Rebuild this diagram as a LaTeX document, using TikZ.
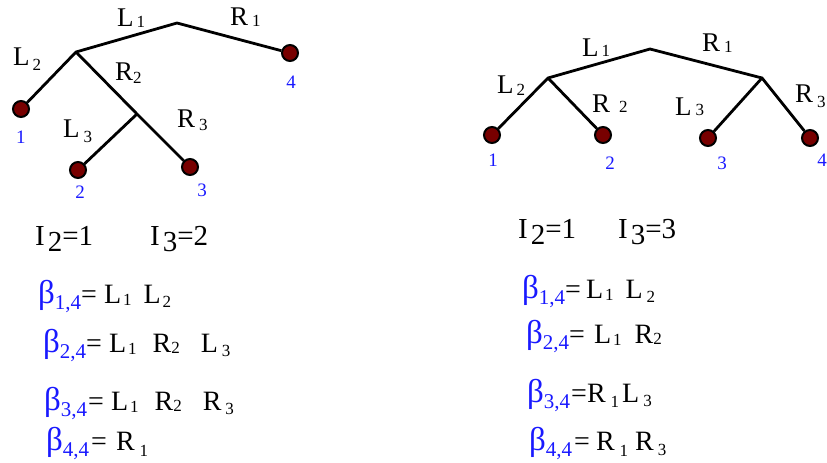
\documentclass[tikz,border=0pt]{standalone}
\usepackage{fontspec}
\setmainfont{Liberation Serif}
\usetikzlibrary{positioning}

\definecolor{idxblue}{RGB}{25,25,255}
\definecolor{leafred}{RGB}{120,0,0}

% lowered small index, and blue beta coefficient
\newcommand{\idx}[2][2pt]{\raisebox{-#1}{\fontsize{17}{17}\selectfont #2}}
\newcommand{\coef}[2][6pt]{{\color{idxblue}\fontsize{33}{33}\selectfont β\raisebox{-#1}{\fontsize{21}{21}\selectfont #2}}}

\begin{document}
\begin{tikzpicture}[
    x=1pt, y=-1pt,
    branch/.style={line width=2.8pt},
    leaf/.style={circle, draw=black, line width=2pt, fill=leafred, minimum size=16pt, inner sep=0pt},
    lbl/.style={anchor=base west, inner sep=0pt, font=\fontsize{27}{32}\selectfont},
    num/.style={inner sep=0pt, text=idxblue, font=\fontsize{19}{20}\selectfont},
    eqn/.style={anchor=base west, inner sep=0pt, font=\fontsize{28}{32}\selectfont},
    ieqn/.style={anchor=base west, inner sep=0pt, font=\fontsize{29}{32}\selectfont},
]
\useasboundingbox (0,0) rectangle (827,463);

% --- Left tree ---
\coordinate (a0) at (177,23);
\coordinate (a1) at (76,52);
\coordinate (a2) at (137,114);
\node[leaf] (aleaf1) at (21,109) {};
\node[leaf] (aleaf2) at (78,170) {};
\node[leaf] (aleaf3) at (190,167) {};
\node[leaf] (aleaf4) at (290,53) {};

\draw[branch] (aleaf1) -- (a1) -- (a0) -- (aleaf4);
\draw[branch] (a1) -- (a2) -- (aleaf3);
\draw[branch] (a2) -- (aleaf2);

\node[lbl] (al1) at (117,27) {L\hspace{3pt}\idx[1pt]{1}};
\node[lbl] (ar1) at (230,25) {R\hspace{4pt}\idx[1pt]{1}};
\node[lbl] (al2) at (13,65) {L\hspace{3pt}\idx[5pt]{2}};
\node[lbl] (ar2) at (115,80) {R\idx[3pt]{2}};
\node[lbl] (al3) at (63,137) {L\hspace{4pt}\idx[5pt]{3}};
\node[lbl] (ar3) at (177,127) {R\hspace{4pt}\idx[3pt]{3}};

\node[num] (anum1) at (21,137) {1};
\node[num] (anum2) at (80,192) {2};
\node[num] (anum3) at (202,190) {3};
\node[num] (anum4) at (291,82) {4};

% --- Right tree ---
\coordinate (b0) at (650,49);
\coordinate (b1) at (548,78);
\coordinate (b2) at (762,78);
\node[leaf] (bleaf1) at (492,135) {};
\node[leaf] (bleaf2) at (603,135) {};
\node[leaf] (bleaf3) at (708,138) {};
\node[leaf] (bleaf4) at (810,138) {};

\draw[branch] (bleaf1) -- (b1) -- (b0) -- (b2) -- (bleaf4);
\draw[branch] (b1) -- (bleaf2);
\draw[branch] (b2) -- (bleaf3);

\node[lbl] (bl1) at (582,56) {L\hspace{3pt}\idx[1pt]{1}};
\node[lbl] (br1) at (702,51) {R\hspace{4pt}\idx[1pt]{1}};
\node[lbl] (bl2) at (497,93) {L\hspace{3pt}\idx[2pt]{2}};
\node[lbl] (br2) at (592,112) {R\hspace{9pt}\idx[0pt]{2}};
\node[lbl] (bl3) at (675,115) {L\hspace{4pt}\idx[0pt]{3}};
\node[lbl] (br3) at (795,102) {R\hspace{4pt}\idx[5pt]{3}};

\node[num] (bnum1) at (493,160) {1};
\node[num] (bnum2) at (610,163) {2};
\node[num] (bnum3) at (722,163) {3};
\node[num] (bnum4) at (822,160) {4};

% --- Left indices and coefficients ---
\node[ieqn] (ai2) at (35,245) {I\hspace{3pt}\raisebox{-6pt}{2}=1};
\node[ieqn] (ai3) at (150,245) {I\hspace{3pt}\raisebox{-6pt}{3}=2};

\node[eqn] (ae1) at (38,303) {\coef{1,4}=\hspace{7pt}L\hspace{2pt}\idx{1}\hspace{12pt}L\hspace{2pt}\idx[4pt]{2}};
\node[eqn] (ae2) at (43,352) {\coef{2,4}=\hspace{7pt}L\hspace{2pt}\idx{1}\hspace{16pt}R\idx[1pt]{2}\hspace{21pt}L\hspace{4pt}\idx[4pt]{3}};
\node[eqn] (ae3) at (44,410) {\coef{3,4}\hspace{1pt}=\hspace{7pt}L\hspace{2pt}\idx{1}\hspace{16pt}R\idx[1pt]{2}\hspace{21pt}R\hspace{4pt}\idx[4pt]{3}};
\node[eqn] (ae4) at (46,450) {\coef{4,4}\hspace{2pt}=\hspace{9pt}R\hspace{5pt}\idx[6pt]{1}};

% --- Right indices and coefficients ---
\node[ieqn] (bi2) at (518,238) {I\hspace{3pt}\raisebox{-6pt}{2}=1};
\node[ieqn] (bi3) at (618,238) {I\hspace{3pt}\raisebox{-6pt}{3}=3};

\node[eqn] (be1) at (522,298) {\coef{1,4}=\hspace{5pt}L\hspace{2pt}\idx{1}\hspace{12pt}L\hspace{4pt}\idx[4pt]{2}};
\node[eqn] (be2) at (526,343) {\coef{2,4}=\hspace{9pt}L\hspace{2pt}\idx{1}\hspace{13pt}R\idx[1pt]{2}};
\node[eqn] (be3) at (527,402) {\coef{3,4}\hspace{1pt}=R\hspace{5pt}\idx[5pt]{1}\hspace{3pt}L\hspace{4pt}\idx[4pt]{3}};
\node[eqn] (be4) at (529,450) {\coef{4,4}\hspace{2pt}=\hspace{6pt}R\hspace{5pt}\idx[6pt]{1}\hspace{7pt}R\hspace{4pt}\idx[5pt]{3}};

\end{tikzpicture}
\end{document}
